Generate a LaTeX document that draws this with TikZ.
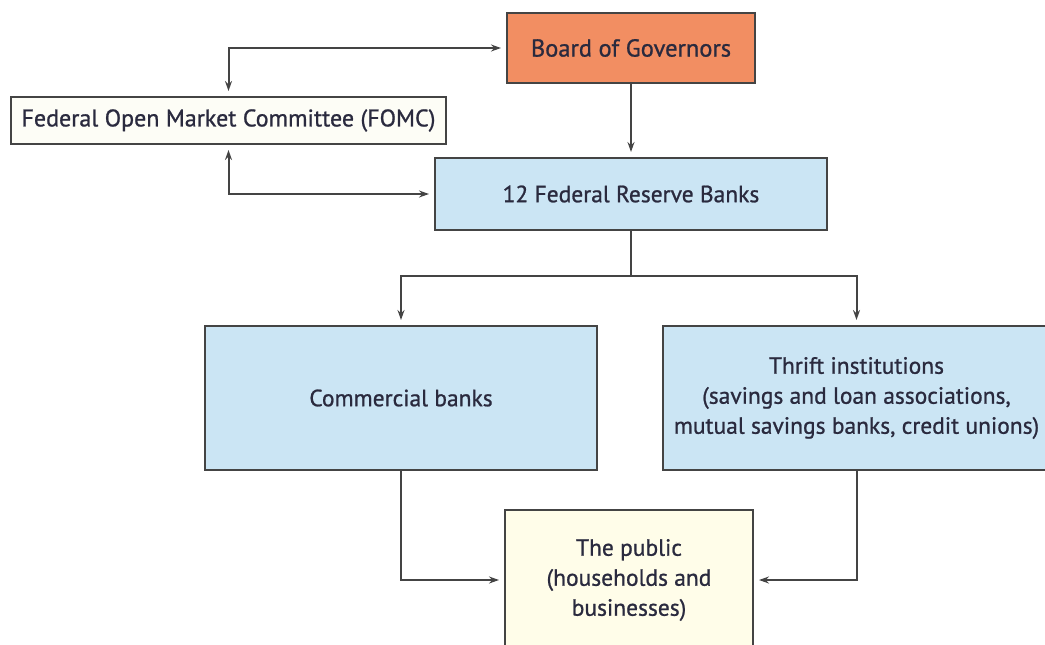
\documentclass[tikz,border=0pt]{standalone}
\usepackage{fontspec}
\setmainfont{PT Sans}[BoldFont=PT Sans,BoldFeatures={FakeBold=0.9}]
\usetikzlibrary{arrows.meta}
\definecolor{boardc}{HTML}{F28E62}
\definecolor{bluec}{HTML}{CBE5F4}
\definecolor{publicc}{HTML}{FFFDE9}
\definecolor{fomcc}{HTML}{FDFDF6}
\definecolor{linec}{HTML}{444444}
\definecolor{textc}{HTML}{2A2A3E}
\begin{document}
\begin{tikzpicture}[x=1pt,y=-1pt,
  box/.style={draw=linec,line width=2pt,inner sep=0pt,align=center,text=textc,font=\bfseries\fontsize{23.5}{30}\selectfont},
  conn/.style={draw=linec,line width=2pt,-{Stealth[length=10pt,width=7pt]},shorten >=5pt},
  biconn/.style={draw=linec,line width=2pt,{Stealth[length=10pt,width=7pt]}-{Stealth[length=10pt,width=7pt]},shorten >=5pt,shorten <=5pt}]
\useasboundingbox (0,0) rectangle (1045,645);
\node[box,fill=boardc,minimum width=248pt,minimum height=70pt,font=\bfseries\fontsize{24.5}{30}\selectfont] (board) at (631,48) {Board of Governors};
\node[box,fill=fomcc,minimum width=435pt,minimum height=47pt,font=\bfseries\fontsize{24}{30}\selectfont] (fomc) at (228.5,120.5) {Federal Open Market Committee (FOMC)};
\node[box,fill=bluec,minimum width=392pt,minimum height=72pt] (frb) at (631,194) {12 Federal Reserve Banks};
\node[box,fill=bluec,minimum width=392pt,minimum height=144pt] (comm) at (401,398) {Commercial banks};
\node[box,fill=bluec,minimum width=387pt,minimum height=144pt] (thrift) at (856.5,398) {Thrift institutions\\(savings and loan associations,\\mutual savings banks, credit unions)};
\node[box,fill=publicc,minimum width=248pt,minimum height=140pt] (public) at (629,580) {The public\\(households and\\businesses)};
\coordinate (split) at (631,276);
\draw[conn] (board.south) -- (frb.north);
\draw[biconn] (fomc.north) |- (board.west);
\draw[biconn] (fomc.south) |- (frb.west);
\draw[draw=linec,line width=2pt] (frb.south) -- (split);
\draw[conn] (split) -| (comm.north);
\draw[conn] (split) -| (thrift.north);
\draw[conn] (comm.south) |- (public.west);
\draw[conn] (thrift.south) |- (public.east);
\end{tikzpicture}
\end{document}
